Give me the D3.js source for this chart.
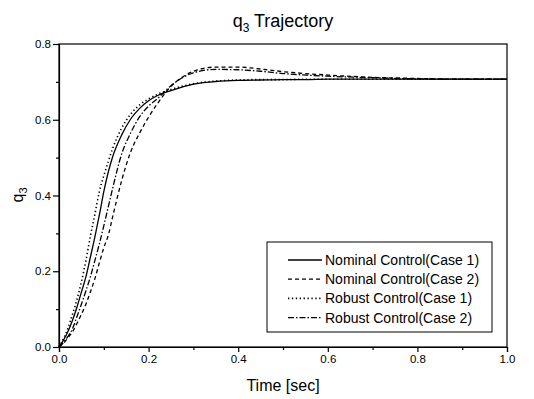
<!DOCTYPE html>
<html>
<head>
<meta charset="utf-8">
<script src="https://cdn.jsdelivr.net/npm/d3@7"></script>
<style>
  body { margin: 0; background: #fff; }
  text { font-family: "Liberation Sans", Arial, sans-serif; fill: #000; }
</style>
</head>
<body>
<div class="plot"></div>
<script>
// time samples [sec]
var time = [0, 0.01, 0.02, 0.03, 0.04, 0.05, 0.06, 0.07, 0.08, 0.09, 0.10, 0.11, 0.12,
    0.14, 0.16, 0.18, 0.20, 0.22, 0.25, 0.28, 0.30, 0.35, 0.40, 0.45, 0.50, 0.55,
    0.60, 0.70, 0.80, 0.90, 1.00];

// q3 values
var nominal1 = [0, 0.018, 0.041, 0.070, 0.105, 0.145, 0.185, 0.237, 0.290, 0.348, 0.410, 0.462, 0.503,
    0.560, 0.602, 0.630, 0.650, 0.664, 0.677, 0.688, 0.694, 0.701, 0.704, 0.705, 0.706, 0.706,
    0.707, 0.707, 0.707, 0.707, 0.707];
var nominal2 = [0, 0.010, 0.024, 0.040, 0.062, 0.086, 0.113, 0.145, 0.180, 0.222, 0.262, 0.295, 0.345,
    0.440, 0.515, 0.565, 0.607, 0.643, 0.688, 0.716, 0.728, 0.739, 0.739, 0.734, 0.727, 0.722,
    0.718, 0.712, 0.709, 0.707, 0.707];
var robust1 = [0, 0.022, 0.050, 0.086, 0.125, 0.172, 0.228, 0.292, 0.350, 0.410, 0.452, 0.490, 0.525,
    0.578, 0.615, 0.639, 0.655, 0.667, 0.680, 0.690, 0.695, 0.702, 0.705, 0.706, 0.706, 0.707,
    0.707, 0.707, 0.707, 0.707, 0.707];
var robust2 = [0, 0.012, 0.028, 0.048, 0.080, 0.113, 0.148, 0.185, 0.228, 0.272, 0.320, 0.370, 0.420,
    0.510, 0.565, 0.608, 0.636, 0.656, 0.690, 0.714, 0.724, 0.733, 0.732, 0.728, 0.722, 0.718,
    0.715, 0.711, 0.708, 0.707, 0.707];

var seriesNames = ["Nominal Control(Case 1)", "Nominal Control(Case 2)",
    "Robust Control(Case 1)", "Robust Control(Case 2)"];
var seriesValues = [nominal1, nominal2, robust1, robust2];
var dashes = [null, "4,3", "1.3,2.6", "6,2,1.5,2"];

var xTicks = [0, 0.2, 0.4, 0.6, 0.8, 1.0];
var yTicks = [0, 0.2, 0.4, 0.6, 0.8];

var svgWidth = 534;
var svgHeight = 399;

var margin = { top: 44, right: 27, bottom: 52, left: 59 };
var width = svgWidth - margin.left - margin.right;
var height = svgHeight - margin.top - margin.bottom;

var svg = d3.select(".plot")
    .append("svg")
    .attr("width", svgWidth)
    .attr("height", svgHeight);

var chartGroup = svg.append("g")
    .attr("transform", `translate(${margin.left}, ${margin.top})`);

var xScale = d3.scaleLinear().domain([0, 1]).range([0, width]);
var yScale = d3.scaleLinear().domain([0, 0.8]).range([height, 0]);

// minor ticks
chartGroup.append("g")
    .attr("transform", `translate(0, ${height})`)
    .call(d3.axisBottom(xScale).tickValues(d3.range(0.1, 1, 0.2)).tickSize(3).tickFormat(""))
    .call(g => g.select(".domain").remove());
chartGroup.append("g")
    .call(d3.axisLeft(yScale).tickValues(d3.range(0.1, 0.8, 0.2)).tickSize(3).tickFormat(""))
    .call(g => g.select(".domain").remove());

// major ticks
chartGroup.append("g")
    .attr("transform", `translate(0, ${height})`)
    .call(d3.axisBottom(xScale).tickValues(xTicks).tickSize(5).tickPadding(3).tickFormat(d3.format(".1f")));
chartGroup.append("g")
    .call(d3.axisLeft(yScale).tickValues(yTicks).tickSize(6).tickPadding(2).tickFormat(d3.format(".1f")));

svg.selectAll(".tick text")
    .style("font-size", "11.5px")
    .style("font-family", "Liberation Sans, Arial, sans-serif");
svg.selectAll(".tick line, .domain").attr("stroke", "#000").attr("stroke-width", 1.2);

// frame
chartGroup.append("rect")
    .attr("width", width)
    .attr("height", height)
    .attr("fill", "none")
    .attr("stroke", "#000")
    .attr("stroke-width", 1.2);

// lines
var line = d3.line()
    .x(d => xScale(d[0]))
    .y(d => yScale(d[1]))
    .curve(d3.curveMonotoneX);

seriesValues.forEach(function (vals, i) {
    chartGroup.append("path")
        .datum(time.map((t, j) => [t, vals[j]]))
        .attr("d", line)
        .attr("fill", "none")
        .attr("stroke", "#000")
        .attr("stroke-width", i == 2 ? 1.6 : 1.3)
        .attr("stroke-dasharray", dashes[i]);
});

// legend
var legend = svg.append("g")
    .attr("transform", "translate(267, 242)");
legend.append("rect")
    .attr("width", 225)
    .attr("height", 90)
    .attr("fill", "#fff")
    .attr("stroke", "#000")
    .attr("stroke-width", 1);
seriesNames.forEach(function (name, i) {
    var y = 18 + i * 19.2;
    legend.append("line")
        .attr("x1", 21).attr("x2", 55)
        .attr("y1", y).attr("y2", y)
        .attr("stroke", "#000")
        .attr("stroke-width", i == 2 ? 1.6 : 1.3)
        .attr("stroke-dasharray", dashes[i]);
    legend.append("text")
        .attr("x", 58)
        .attr("y", y + 5)
        .style("font-size", "14px")
        .text(name);
});

// title
var title = svg.append("text")
    .attr("x", 283)
    .attr("y", 27)
    .attr("text-anchor", "middle")
    .style("font-size", "18px");
title.append("tspan").text("q");
title.append("tspan").attr("dy", 5).style("font-size", "12px").text("3");
title.append("tspan").attr("dy", -5).text(" Trajectory");

// axis labels
svg.append("text")
    .attr("x", 283)
    .attr("y", 391)
    .attr("text-anchor", "middle")
    .style("font-size", "16px")
    .text("Time [sec]");

var yLabel = svg.append("text")
    .attr("transform", "translate(23, 195) rotate(-90)")
    .attr("text-anchor", "middle")
    .style("font-size", "16px");
yLabel.append("tspan").text("q");
yLabel.append("tspan").attr("dy", 4).style("font-size", "11px").text("3");
</script>
</body>
</html>
